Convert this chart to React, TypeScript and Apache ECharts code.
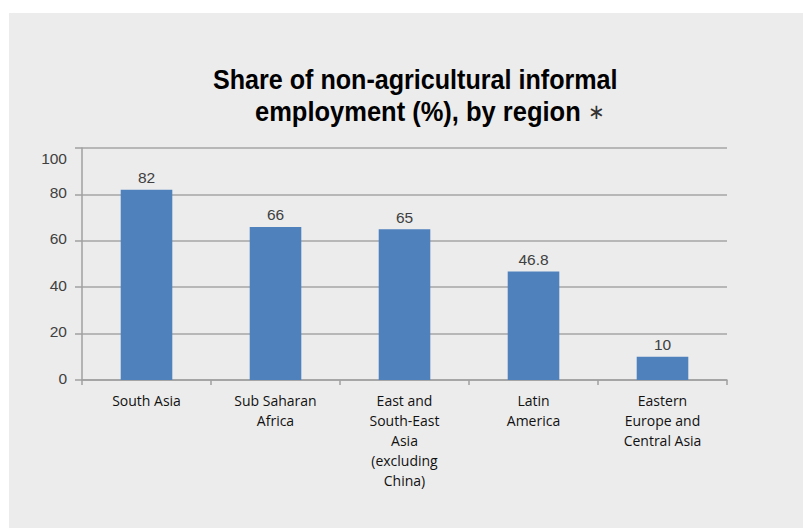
import React, { useEffect, useRef } from "react";
import * as echarts from "echarts";

const categories: string[] = [
  "South Asia",
  "Sub Saharan\nAfrica",
  "East and\nSouth-East\nAsia\n(excluding\nChina)",
  "Latin\nAmerica",
  "Eastern\nEurope and\nCentral Asia",
];
const values: number[] = [82, 66, 65, 46.8, 10];
const yMin = 0;
const yMax = 100;
const yInterval = 20;
const titleLine1 = "Share of non-agricultural informal";
const titleLine2 = "employment (%), by region";
const titleMark = "∗";

const titleFont = "'Liberation Sans', Arial, sans-serif";

export default function App() {
  const ref = useRef<HTMLDivElement>(null);
  useEffect(() => {
    if (!ref.current) return;
    const chart = echarts.init(ref.current, undefined, { renderer: "svg" });
    chart.setOption({
      animation: false,
      backgroundColor: "#ffffff",
      graphic: [
        {
          type: "rect",
          silent: true,
          z: -10,
          shape: { x: 9, y: 13, width: 794, height: 515 },
          style: { fill: "#ececec" },
        },
        {
          type: "text",
          x: 213,
          y: 65,
          scaleX: 0.985,
          scaleY: 1.06,
          style: {
            text: titleLine1,
            align: "left",
            verticalAlign: "top",
            fontFamily: titleFont,
            fontWeight: "bold",
            fontSize: 25.5,
            lineHeight: 28,
            fill: "#000000",
          },
        },
        {
          type: "text",
          x: 255,
          y: 97,
          scaleY: 1.06,
          style: {
            text: titleLine2 + " {a|" + titleMark + "}",
            align: "left",
            verticalAlign: "top",
            fontFamily: titleFont,
            fontWeight: "bold",
            fontSize: 25.5,
            lineHeight: 28,
            fill: "#000000",
            rich: {
              a: {
                fontFamily: "'DejaVu Sans', sans-serif",
                fontWeight: "normal",
                fontSize: 20,
                lineHeight: 28,
                fill: "#333333",
              },
            },
          },
        },
      ],
      grid: { left: 82, right: 76, top: 148, bottom: 149, containLabel: false },
      xAxis: {
        type: "category",
        data: categories,
        axisLine: { show: true, lineStyle: { color: "#a0a0a0", width: 1.5 } },
        axisTick: { show: true, alignWithLabel: false, length: 5, lineStyle: { color: "#a0a0a0", width: 1.5 } },
        axisLabel: {
          interval: 0,
          margin: 10,
          color: "#111111",
          fontFamily: "'Open Sans', sans-serif",
          fontSize: 14,
          lineHeight: 20,
        },
      },
      yAxis: {
        type: "value",
        min: yMin,
        max: yMax,
        interval: yInterval,
        axisLine: { show: true, lineStyle: { color: "#a0a0a0", width: 1.5 } },
        axisTick: { show: true, length: 7, lineStyle: { color: "#a0a0a0", width: 1.5 } },
        axisLabel: {
          margin: 15,
          color: "#404040",
          fontFamily: "'Liberation Sans', Arial, sans-serif",
          fontSize: 15.5,
          formatter: (v: number) => (v === yMax ? "{top|" + v + "}" : "{n|" + v + "}"),
          rich: {
            top: { padding: [20, 0, 0, 0], fontSize: 15.5, color: "#404040", fontFamily: "'Liberation Sans', Arial, sans-serif" },
            n: { padding: [0, 0, 4, 0], fontSize: 15.5, color: "#404040", fontFamily: "'Liberation Sans', Arial, sans-serif" },
          },
        },
        splitLine: { show: true, lineStyle: { color: "#a6a6a6", width: 1.5 } },
      },
      series: [
        {
          type: "bar",
          data: values,
          barWidth: "40%",
          itemStyle: { color: "#4f81bd" },
          label: {
            show: true,
            position: "top",
            distance: 4,
            color: "#404040",
            fontFamily: "'Liberation Sans', Arial, sans-serif",
            fontSize: 15.5,
          },
        },
      ],
    });
    return () => chart.dispose();
  }, []);
  return (
    <div
      ref={ref}
      style={{ position: "fixed", left: 0, top: 0, width: 803, height: 529 }}
    />
  );
}
